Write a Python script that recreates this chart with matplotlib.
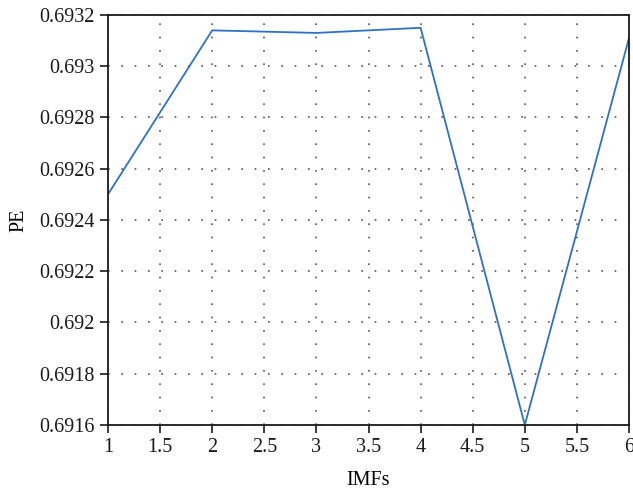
import matplotlib
matplotlib.use('Agg')
import matplotlib.pyplot as plt
import numpy as np

imfs = [1, 2, 3, 4, 5, 6]
pe = [0.69250, 0.69314, 0.69313, 0.69315, 0.69160, 0.69311]
xticks = [1, 1.5, 2, 2.5, 3, 3.5, 4, 4.5, 5, 5.5, 6]
yticks = [0.6916, 0.6918, 0.692, 0.6922, 0.6924, 0.6926, 0.6928, 0.693, 0.6932]
ytick_labels = ['0.6916', '0.6918', '0.692', '0.6922', '0.6924', '0.6926', '0.6928', '0.693', '0.6932']
xtick_labels = ['1', '1.5', '2', '2.5', '3', '3.5', '4', '4.5', '5', '5.5', '6']

plt.rcParams['font.family'] = ['Liberation Serif', 'DejaVu Serif']

fig = plt.figure(figsize=(6.33, 4.93), dpi=100)
ax = fig.add_axes([0.1706, 0.138, 0.8231, 0.8316])

ax.plot(imfs, pe, color='#2f72bd', linewidth=1.3)

ax.set_xlim(1, 6)
ax.set_ylim(0.6916, 0.6932)
ax.set_xticks(xticks)
ax.set_xticklabels(xtick_labels)
ax.set_yticks(yticks)
ax.set_yticklabels(ytick_labels)
ax.tick_params(direction='out', length=6, width=1.2, labelsize=14.5, colors='#1a1a1a')
ax.grid(True, linestyle=(0, (1, 7)), color='#555555', linewidth=1.2)

for s in ax.spines.values():
    s.set_linewidth(1.3)
    s.set_color('#1a1a1a')

ax.set_xlabel('IMFs', fontsize=14.5, labelpad=10)
ax.set_ylabel('PE', fontsize=14.5, labelpad=8)

fig.savefig('out.png', dpi=100)
